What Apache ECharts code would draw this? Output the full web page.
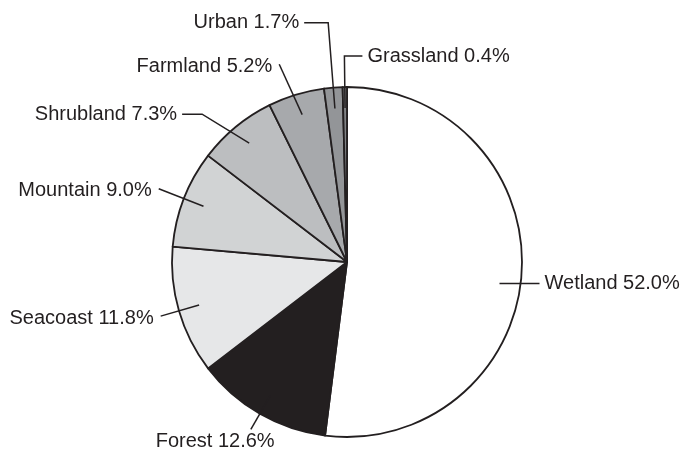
<!DOCTYPE html>
<html>
<head>
<meta charset="utf-8">
<script src="https://cdn.jsdelivr.net/npm/echarts@6/dist/echarts.min.js"></script>
<style>
  html, body { margin: 0; padding: 0; background: #ffffff; }
  #chart { width: 680px; height: 450px; }
</style>
</head>
<body>
<div id="chart"></div>
<script>
// Land-cover shares (percent of total area)
const categories = ['Wetland', 'Forest', 'Seacoast', 'Mountain', 'Shrubland', 'Farmland', 'Urban', 'Grassland'];
const shares = [52.0, 12.6, 11.8, 9.0, 7.3, 5.2, 1.7, 0.4];
const sliceColors = ['#ffffff', '#231f20', '#e6e7e8', '#d1d3d4', '#bcbec0', '#a7a9ac', '#939598', '#808285'];

// Leader line shape for each label: [tilt deg, bend tilt deg, reach beyond rim px, horizontal run px]
const leaders = [
  [4.4, 0, -21, 40],
  [0, 0, 18, 0],
  [0, 0, 19, 0],
  [0, 0, 27, 0],
  [0, -5, 32, -20],
  [0, -2, 34, 0],
  [0, 0, 65, -24],
  [0, 0, 31, 18]
];

const CX = 347, CY = 262, R = 175;
const INK = '#231f20';

const total = shares.reduce((a, b) => a + b, 0);
const midAngles = [];
let acc = 0;
shares.forEach(v => { midAngles.push((acc + v / 2) / total * 360); acc += v; });

// angle in degrees, clockwise from 12 o'clock
function polar(deg, r) {
  const a = deg * Math.PI / 180;
  return [CX + r * Math.sin(a), CY - r * Math.cos(a)];
}

const pieData = categories.map((name, i) => ({
  name: name,
  value: shares[i],
  itemStyle: { color: sliceColors[i] }
}));

const chart = echarts.init(document.getElementById('chart'), null, { renderer: 'canvas' });

chart.setOption({
  backgroundColor: '#ffffff',
  animation: false,
  series: [
    {
      // filled slices
      type: 'pie',
      z: 2,
      center: [CX, CY],
      radius: R,
      startAngle: 90,
      clockwise: true,
      silent: true,
      data: pieData,
      itemStyle: { borderColor: INK, borderWidth: 1.8 },
      label: { show: false },
      labelLine: { show: false }
    },
    {
      // transparent overlay carrying the labels, so leaders run over the slices
      type: 'pie',
      z: 3,
      center: [CX, CY],
      radius: R,
      startAngle: 90,
      clockwise: true,
      silent: true,
      avoidLabelOverlap: false,
      data: categories.map((name, i) => ({ name: name, value: shares[i] })),
      itemStyle: { color: 'rgba(0,0,0,0)', borderWidth: 0 },
      label: {
        show: true,
        position: 'outside',
        formatter: p => p.name + ' ' + p.value.toFixed(1) + '%',
        color: INK,
        fontSize: 20,
        fontFamily: '"Liberation Sans", Arial, sans-serif'
      },
      labelLine: { show: true, lineStyle: { color: INK, width: 1.5 } },
      labelLayout: function (p) {
        const i = p.dataIndex;
        const [tilt, bendTilt, reach, run] = leaders[i];
        const a = midAngles[i] + tilt;
        const p0 = polar(a, R * 0.88);
        const p1 = polar(a + bendTilt, R + reach);
        const p2 = [p1[0] + run, p1[1]];
        const m = midAngles[i];
        if (m > 150 && m < 215) {
          // label sitting under the leader end
          return {
            x: p2[0] - 0.3 * p.labelRect.width,
            y: p2[1] + 2,
            align: 'center',
            verticalAlign: 'top',
            labelLinePoints: [p0, p1, p2]
          };
        }
        const dir = run !== 0 ? Math.sign(run) : (p2[0] >= CX ? 1 : -1);
        const gap = run !== 0 ? 5 : 7;
        return {
          x: p2[0] + dir * gap,
          y: p2[1] + (run !== 0 ? 0 : 2),
          align: dir > 0 ? 'left' : 'right',
          verticalAlign: 'middle',
          labelLinePoints: [p0, p1, p2]
        };
      }
    }
  ]
});
</script>
</body>
</html>
